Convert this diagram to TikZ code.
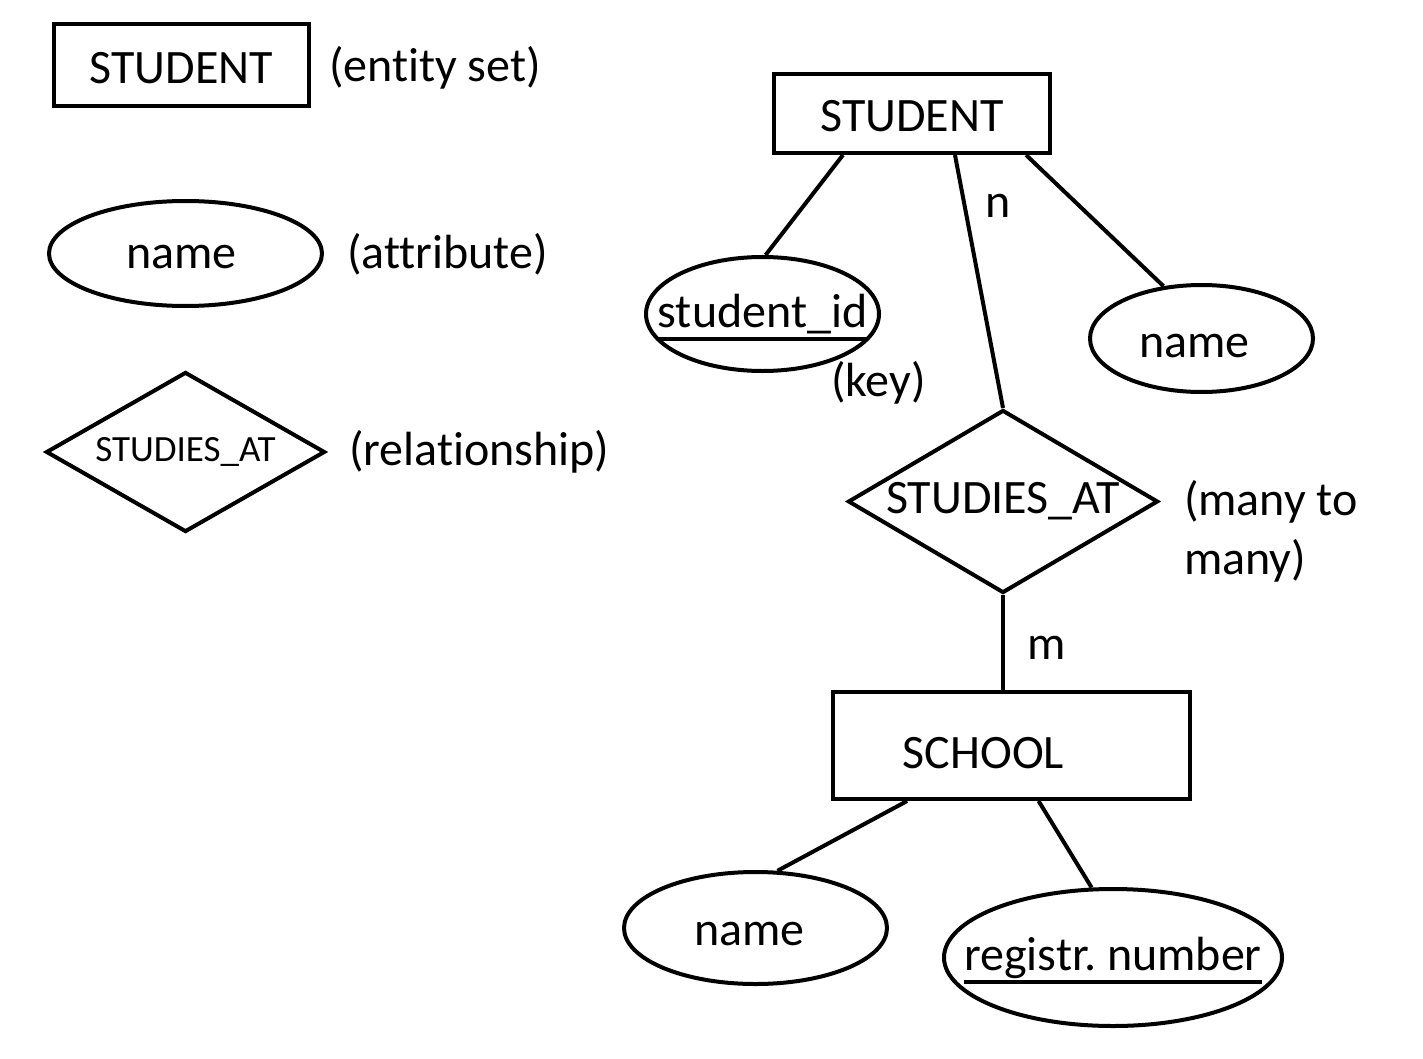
\documentclass[tikz,border=0pt]{standalone}
\usepackage{fontspec}
\setmainfont[Ligatures=NoCommon]{Carlito}
\usetikzlibrary{shapes.geometric, positioning}
\newcommand\keyname[1]{\makebox[0pt]{\setbox0\hbox{#1}\rlap{\raisebox{-7pt}[0pt][0pt]{\rule{\wd0}{2pt}}}\box0}}
\frenchspacing

\begin{document}
\begin{tikzpicture}[x=0.5pt, y=-0.5pt, line width=2pt,
  every node/.style={inner sep=0pt, font=\fontsize{24}{29.5}\selectfont},
  entity/.style={draw, rectangle, text height=18.5pt, text depth=0pt},
  attr/.style={draw, ellipse},
  rel/.style={draw, diamond},
  note/.style={anchor=west}]
\path [use as bounding box, fill=white] (0,0) rectangle (1423,1059);
\node [entity, minimum width=127.5pt, minimum height=41pt] (lst) at (181.5,65) {STUDENT};
\node [note] (lstn) at (327,68) {(entity set)};
\node [attr, minimum width=136.5pt, minimum height=52.5pt, text height=15pt, text depth=0pt] (lnm) at (185.5,253.5) {name\hspace*{4pt}};
\node [note] (lnmn) at (345,254) {(attribute)};
\node [rel, shape aspect=1.74, minimum width=139.5pt, minimum height=80pt, font=\fontsize{18.5}{22}\selectfont] (lrel) at (185.5,452) {STUDIES\_AT};
\node [note] (lreln) at (347,452) {(relationship)};
\node [entity, minimum width=138pt, minimum height=39.5pt] (st) at (912,113.5) {STUDENT};
\node [attr, minimum width=116.5pt, minimum height=57pt] (sid) at (762.5,314) {\keyname{student\_id}};
\node [note] (key) at (829,383) {(key)};
\node [attr, minimum width=111.5pt, minimum height=53.5pt, text height=19pt, text depth=0pt] (nm1) at (1201.5,338.5) {name\hspace*{7pt}};
\node [rel, shape aspect=1.69, minimum width=155pt, minimum height=91.5pt] (rel) at (1003,501.5) {STUDIES\_AT};
\node [note, align=left] (card) at (1182,531) {(many to\\many)};
\node [entity, minimum width=178.5pt, minimum height=53.5pt, text height=22.5pt] (sc) at (1011.5,745.5) {SCHOOL\hspace*{28pt}};
\node [attr, minimum width=131.5pt, minimum height=56pt, text height=17pt, text depth=0pt] (nm2) at (755.5,928) {name\hspace*{6pt}};
\node [attr, minimum width=169pt, minimum height=68.5pt] (reg) at (1113,957.5) {\keyname{registr. number}};
\node (n) at (998,206) {n};
\node (m) at (1047,648) {m};
\draw (st.-149.5) -- (sid.87);
\draw (st.-44) -- (rel.north);
\draw (st.-20.7) -- (nm1.126);
\draw (rel.south) -- (rel.south |- sc.north);
\draw (sc.-152.7) -- (nm2.69);
\draw (sc.-64.9) -- (reg.107);
\end{tikzpicture}
\end{document}
